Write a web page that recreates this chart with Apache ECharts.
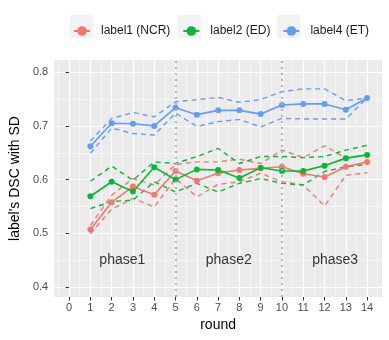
<!DOCTYPE html>
<html>
<head>
<meta charset="utf-8">
<script src="https://cdn.jsdelivr.net/npm/echarts@6/dist/echarts.min.js"></script>
<style>
  html, body { margin: 0; padding: 0; background: #fff; }
  #chart { width: 389px; height: 340px; }
</style>
</head>
<body>
<div id="chart"></div>
<script>
  // rounds on the x axis
  var rounds = [1, 2, 3, 4, 5, 6, 7, 8, 9, 10, 11, 12, 13, 14];

  // label1 (NCR): mean, mean+SD, mean-SD
  var ncrMean  = [0.507, 0.558, 0.587, 0.572, 0.616, 0.598, 0.612, 0.618, 0.621, 0.624, 0.611, 0.605, 0.624, 0.633];
  var ncrUpper = [0.515, 0.571, 0.602, 0.590, 0.628, 0.633, 0.633, 0.638, 0.630, 0.655, 0.641, 0.663, 0.640, 0.646];
  var ncrLower = [0.499, 0.545, 0.565, 0.549, 0.602, 0.568, 0.591, 0.596, 0.612, 0.596, 0.590, 0.551, 0.608, 0.613];

  // label2 (ED)
  var edMean  = [0.569, 0.596, 0.578, 0.623, 0.600, 0.619, 0.618, 0.603, 0.622, 0.616, 0.616, 0.626, 0.640, 0.646];
  var edUpper = [0.597, 0.625, 0.599, 0.633, 0.630, 0.643, 0.658, 0.630, 0.643, 0.643, 0.641, 0.643, 0.655, 0.664];
  var edLower = [0.546, 0.559, 0.562, 0.596, 0.577, 0.593, 0.577, 0.593, 0.602, 0.593, 0.590, 0.615, 0.624, 0.628];

  // label4 (ET)
  var etMean  = [0.662, 0.705, 0.704, 0.700, 0.734, 0.721, 0.729, 0.729, 0.722, 0.739, 0.741, 0.741, 0.730, 0.752];
  var etUpper = [0.672, 0.714, 0.725, 0.717, 0.745, 0.749, 0.753, 0.744, 0.749, 0.764, 0.769, 0.769, 0.747, 0.752];
  var etLower = [0.649, 0.696, 0.686, 0.683, 0.724, 0.699, 0.708, 0.712, 0.698, 0.714, 0.713, 0.713, 0.713, 0.752];

  var seriesNames = ['label1 (NCR)', 'label2 (ED)', 'label4 (ET)'];
  var seriesColors = ['#F8766D', '#00BA38', '#619CFF'];

  // axis ticks
  var xTicks = [0, 1, 2, 3, 4, 5, 6, 7, 8, 9, 10, 11, 12, 13, 14];
  var xMinorTicks = [-0.5, 0.5, 1.5, 2.5, 3.5, 4.5, 5.5, 6.5, 7.5, 8.5, 9.5, 10.5, 11.5, 12.5, 13.5, 14.5];
  var yTicks = [0.4, 0.5, 0.6, 0.7, 0.8];
  var yMinorTicks = [0.45, 0.55, 0.65, 0.75];

  // phase separators and labels
  var phaseBreaks = [5, 10];
  var phaseLabels = ['phase1', 'phase2', 'phase3'];
  var phaseX = [2.5, 7.5, 12.5];
  var phaseY = 0.45;

  var FONT = "'Liberation Sans', Arial, sans-serif";

  function pairs(vals) {
    return rounds.map(function (r, i) { return [r, vals[i]]; });
  }

  function meanSeries(idx, vals) {
    return {
      name: seriesNames[idx],
      type: 'line',
      data: pairs(vals),
      symbol: 'circle',
      symbolSize: 6,
      color: seriesColors[idx],
      lineStyle: { width: 1.6, color: seriesColors[idx] },
      itemStyle: { color: seriesColors[idx] },
      z: 4
    };
  }

  function sdSeries(idx, vals) {
    return {
      name: seriesNames[idx] + ' sd',
      type: 'line',
      data: pairs(vals),
      showSymbol: false,
      symbol: 'none',
      lineStyle: { width: 1.4, color: seriesColors[idx], type: [5, 4] },
      z: 3
    };
  }

  var chart = echarts.init(document.getElementById('chart'));

  var option = {
    animation: false,
    textStyle: { fontFamily: FONT },
    legend: {
      data: seriesNames,
      left: 68,
      top: 20,
      itemWidth: 16,
      itemHeight: 12,
      itemGap: 12,
      textStyle: { fontSize: 12, color: '#1a1a1a', fontFamily: FONT, padding: [0, 0, 0, 6] }
    },
    // grey key backgrounds, as in the ggplot legend
    graphic: [
      { type: 'rect', left: 70, top: 15, shape: { width: 23, height: 23 }, style: { fill: '#f2f2f2' }, z: -1 },
      { type: 'rect', left: 178, top: 15, shape: { width: 23, height: 23 }, style: { fill: '#f2f2f2' }, z: -1 },
      { type: 'rect', left: 277, top: 15, shape: { width: 23, height: 23 }, style: { fill: '#f2f2f2' }, z: -1 }
    ],
    grid: {
      left: 48,
      right: 7,
      top: 60,
      bottom: 43,
      show: true,
      backgroundColor: '#ebebeb',
      borderWidth: 0
    },
    xAxis: [
      {
        type: 'value',
        min: -0.7,
        max: 14.7,
        name: 'round',
        nameLocation: 'middle',
        nameGap: 20,
        nameTextStyle: { fontSize: 14, color: '#000', fontFamily: FONT },
        axisLine: { show: false },
        axisTick: { show: true, length: 3.5, customValues: xTicks, lineStyle: { color: '#333', width: 1 } },
        axisLabel: { customValues: xTicks, fontSize: 11, color: '#4d4d4d', margin: 5, fontFamily: FONT },
        splitLine: { show: true, lineStyle: { color: '#ffffff', width: 1.2 } }
      },
      {
        type: 'value',
        min: -0.7,
        max: 14.7,
        position: 'bottom',
        axisLine: { show: false },
        axisTick: { show: false, customValues: xMinorTicks },
        axisLabel: { show: false, customValues: xMinorTicks },
        splitLine: { show: true, lineStyle: { color: '#fbfbfb', width: 0.7 } }
      }
    ],
    yAxis: [
      {
        type: 'value',
        min: 0.3813,
        max: 0.8228,
        name: "label's DSC with SD",
        nameLocation: 'middle',
        nameGap: 23,
        nameTextStyle: { fontSize: 14, color: '#000', fontFamily: FONT },
        axisLine: { show: false },
        axisTick: { show: true, length: 3.5, customValues: yTicks, lineStyle: { color: '#333', width: 1 } },
        axisLabel: {
          customValues: yTicks, fontSize: 11, color: '#4d4d4d', margin: 6, fontFamily: FONT,
          formatter: function (v) { return v.toFixed(1); }
        },
        splitLine: { show: true, lineStyle: { color: '#ffffff', width: 1.2 } }
      },
      {
        type: 'value',
        min: 0.3813,
        max: 0.8228,
        position: 'left',
        axisLine: { show: false },
        axisTick: { show: false, customValues: yMinorTicks },
        axisLabel: { show: false, customValues: yMinorTicks },
        splitLine: { show: true, lineStyle: { color: '#fbfbfb', width: 0.7 } }
      }
    ],
    series: [
      sdSeries(0, ncrUpper), sdSeries(0, ncrLower),
      sdSeries(1, edUpper), sdSeries(1, edLower),
      sdSeries(2, etUpper), sdSeries(2, etLower),
      meanSeries(0, ncrMean),
      meanSeries(1, edMean),
      meanSeries(2, etMean),
      {
        name: 'phases',
        type: 'scatter',
        symbolSize: 0,
        data: phaseLabels.map(function (p, i) { return { value: [phaseX[i], phaseY], name: p }; }),
        label: {
          show: true, position: 'inside', formatter: '{b}',
          fontSize: 14, color: '#000', fontFamily: FONT
        },
        markLine: {
          silent: true,
          symbol: 'none',
          label: { show: false },
          lineStyle: { color: '#b3b3b3', width: 2, type: [2, 4] },
          data: phaseBreaks.map(function (b) { return { xAxis: b }; })
        },
        z: 6
      }
    ]
  };

  chart.setOption(option);
</script>
</body>
</html>
